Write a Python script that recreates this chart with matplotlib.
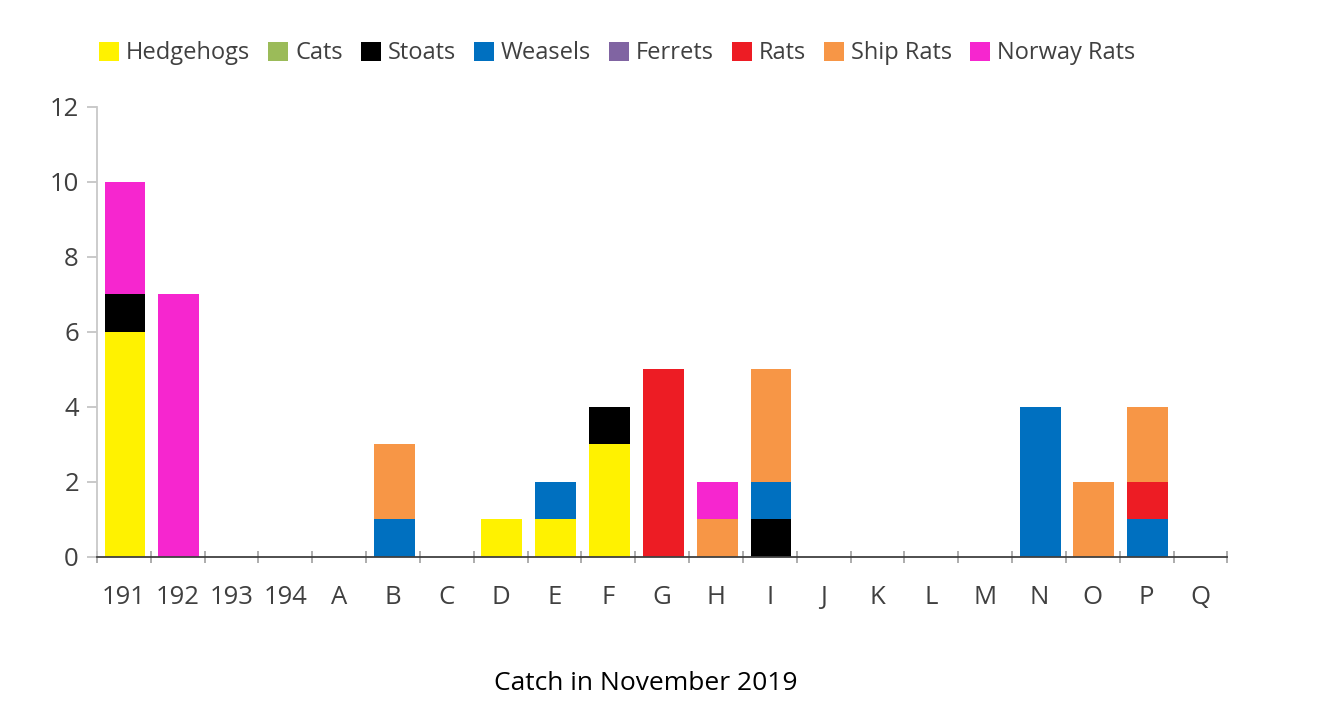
import matplotlib.pyplot as plt
import numpy as np

plt.rcParams['font.family'] = ['Open Sans', 'DejaVu Sans']

# Trap sites and catch per species (November 2019)
sites = ["191", "192", "193", "194", "A", "B", "C", "D", "E", "F", "G",
         "H", "I", "J", "K", "L", "M", "N", "O", "P", "Q"]
hedgehogs = [6, 0, 0, 0, 0, 0, 0, 1, 1, 3, 0, 0, 0, 0, 0, 0, 0, 0, 0, 0, 0]
cats = [0] * 21
stoats = [1, 0, 0, 0, 0, 0, 0, 0, 0, 1, 0, 0, 1, 0, 0, 0, 0, 0, 0, 0, 0]
weasels = [0, 0, 0, 0, 0, 1, 0, 0, 1, 0, 0, 0, 1, 0, 0, 0, 0, 4, 0, 1, 0]
ferrets = [0] * 21
rats = [0, 0, 0, 0, 0, 0, 0, 0, 0, 0, 5, 0, 0, 0, 0, 0, 0, 0, 0, 1, 0]
ship_rats = [0, 0, 0, 0, 0, 2, 0, 0, 0, 0, 0, 1, 3, 0, 0, 0, 0, 0, 2, 2, 0]
norway_rats = [3, 7, 0, 0, 0, 0, 0, 0, 0, 0, 0, 1, 0, 0, 0, 0, 0, 0, 0, 0, 0]

species = ["Hedgehogs", "Cats", "Stoats", "Weasels", "Ferrets", "Rats",
           "Ship Rats", "Norway Rats"]
counts = [hedgehogs, cats, stoats, weasels, ferrets, rats, ship_rats, norway_rats]
colors = ["#FFF200", "#9BBB59", "#000000", "#0070C0", "#8064A2", "#ED1C24",
          "#F79646", "#F626CF"]

fig = plt.figure(figsize=(13.18, 7.2), dpi=100)
ax = fig.add_axes([0.0736, 0.2264, 0.8577, 0.625])

x = np.arange(len(sites))
bottom = np.zeros(len(sites))
for name, vals, col in zip(species, counts, colors):
    vals = np.array(vals, dtype=float)
    ax.bar(x + 0.02, vals, width=0.76, bottom=bottom, color=col, label=name,
           zorder=2)
    bottom += vals

ax.set_xlim(-0.5, len(sites) - 0.5)
ax.set_ylim(0, 12)
ax.set_yticks(range(0, 13, 2))

# category labels centred, tick marks on the boundaries
ax.set_xticks(x)
ax.set_xticklabels(sites)
ax.set_xticks(np.arange(-0.5, len(sites), 1), minor=True)
ax.tick_params(axis='x', which='major', length=0, pad=20, labelsize=18.5,
               labelcolor="#404040")
ax.tick_params(axis='x', which='minor', length=8, width=1.2, color="#A0A0A0",
               direction='inout')
ax.tick_params(axis='y', length=7, width=1.2, color="#C0C0C0", pad=6,
               labelsize=18.5, labelcolor="#404040")

for s in ["top", "right"]:
    ax.spines[s].set_visible(False)
ax.spines["left"].set_color("#C8C8C8")
ax.spines["left"].set_linewidth(1.3)
ax.spines["bottom"].set_color("#404040")
ax.spines["bottom"].set_linewidth(1.3)
ax.spines["bottom"].set_zorder(3)

fig.legend(loc="upper left", bbox_to_anchor=(0.059, 0.972), ncol=8,
           frameon=False, fontsize=17, handlelength=0.85, handleheight=0.85,
           handletextpad=0.3, columnspacing=0.75, labelcolor="#404040")

fig.text(0.49, 0.051, "Catch in November 2019", ha="center", va="center",
         fontsize=19, color="black")

fig.savefig("out.png", dpi=100)
